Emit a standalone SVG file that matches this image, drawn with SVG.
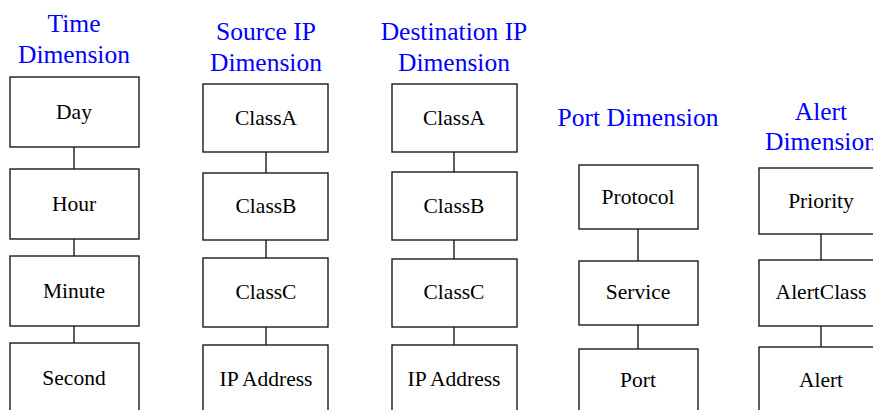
<svg xmlns="http://www.w3.org/2000/svg" width="873" height="410" viewBox="0 0 873 410">
  <style>
    .box { fill: #ffffff; stroke: #1a1a1a; stroke-width: 1.4; }
    .link { stroke: #1a1a1a; stroke-width: 1.4; fill: none; }
    .lbl { font-family: "Liberation Serif", "Times New Roman", serif; font-size: 21.5px; fill: #000000; text-anchor: middle; }
    .title { font-family: "Liberation Serif", "Times New Roman", serif; font-size: 25.5px; fill: #0000ff; text-anchor: middle; }
  </style>
  <rect width="873" height="410" fill="#ffffff"/>

  <!-- dimension titles -->
  <g id="titles">
    <text class="title" x="74" y="32">Time</text>
    <text class="title" x="74" y="63">Dimension</text>
    <text class="title" x="266" y="40">Source IP</text>
    <text class="title" x="266" y="71">Dimension</text>
    <text class="title" x="454" y="40">Destination IP</text>
    <text class="title" x="454" y="71">Dimension</text>
    <text class="title" x="638" y="126" font-size="24.5">Port Dimension</text>
    <text class="title" x="821" y="120">Alert</text>
    <text class="title" x="821" y="150">Dimension</text>
  </g>

  <!-- hierarchy links -->
  <g id="connectors">
    <line class="link" x1="74" y1="147" x2="74" y2="169"/>
    <line class="link" x1="74" y1="239" x2="74" y2="256"/>
    <line class="link" x1="74" y1="326" x2="74" y2="343"/>
    <line class="link" x1="266" y1="152" x2="266" y2="173"/>
    <line class="link" x1="266" y1="240" x2="266" y2="258"/>
    <line class="link" x1="266" y1="327" x2="266" y2="345"/>
    <line class="link" x1="454" y1="152" x2="454" y2="172"/>
    <line class="link" x1="454" y1="240" x2="454" y2="259"/>
    <line class="link" x1="454" y1="327" x2="454" y2="345"/>
    <line class="link" x1="638" y1="229" x2="638" y2="261"/>
    <line class="link" x1="638" y1="325" x2="638" y2="349"/>
    <line class="link" x1="821" y1="234" x2="821" y2="260"/>
    <line class="link" x1="821" y1="326" x2="821" y2="347"/>
  </g>

  <!-- Time dimension -->
  <g id="day"><rect class="box" x="10" y="77" width="129" height="70"/><text class="lbl" x="74" y="119" font-size="22">Day</text></g>
  <g id="hour"><rect class="box" x="10" y="169" width="129" height="70"/><text class="lbl" x="74" y="211" font-size="22">Hour</text></g>
  <g id="minute"><rect class="box" x="10" y="256" width="129" height="70"/><text class="lbl" x="74" y="298" font-size="22">Minute</text></g>
  <g id="second"><rect class="box" x="10" y="343" width="129" height="75"/><text class="lbl" x="74" y="385" font-size="22">Second</text></g>

  <!-- Source IP dimension -->
  <g id="src-classa"><rect class="box" x="203" y="84" width="125" height="68"/><text class="lbl" x="266" y="125">ClassA</text></g>
  <g id="src-classb"><rect class="box" x="203" y="173" width="125" height="67"/><text class="lbl" x="266" y="213">ClassB</text></g>
  <g id="src-classc"><rect class="box" x="203" y="258" width="125" height="69"/><text class="lbl" x="266" y="299">ClassC</text></g>
  <g id="src-ip"><rect class="box" x="203" y="345" width="125" height="75"/><text class="lbl" x="266" y="386">IP Address</text></g>

  <!-- Destination IP dimension -->
  <g id="dst-classa"><rect class="box" x="392" y="84" width="125" height="68"/><text class="lbl" x="454" y="125">ClassA</text></g>
  <g id="dst-classb"><rect class="box" x="392" y="172" width="125" height="68"/><text class="lbl" x="454" y="213">ClassB</text></g>
  <g id="dst-classc"><rect class="box" x="392" y="259" width="125" height="68"/><text class="lbl" x="454" y="299">ClassC</text></g>
  <g id="dst-ip"><rect class="box" x="392" y="345" width="125" height="75"/><text class="lbl" x="454" y="386">IP Address</text></g>

  <!-- Port dimension -->
  <g id="protocol"><rect class="box" x="579" y="165" width="119" height="64"/><text class="lbl" x="638" y="204" font-size="20.5">Protocol</text></g>
  <g id="service"><rect class="box" x="579" y="261" width="119" height="64"/><text class="lbl" x="638" y="299" font-size="20.5">Service</text></g>
  <g id="port"><rect class="box" x="579" y="349" width="119" height="70"/><text class="lbl" x="638" y="387" font-size="20.5">Port</text></g>

  <!-- Alert dimension -->
  <g id="priority"><rect class="box" x="759" y="168" width="124" height="66"/><text class="lbl" x="821" y="208" font-size="21">Priority</text></g>
  <g id="alertclass"><rect class="box" x="759" y="260" width="124" height="66"/><text class="lbl" x="821" y="299" font-size="21">AlertClass</text></g>
  <g id="alert"><rect class="box" x="759" y="347" width="124" height="72"/><text class="lbl" x="821" y="387" font-size="21">Alert</text></g>
</svg>
